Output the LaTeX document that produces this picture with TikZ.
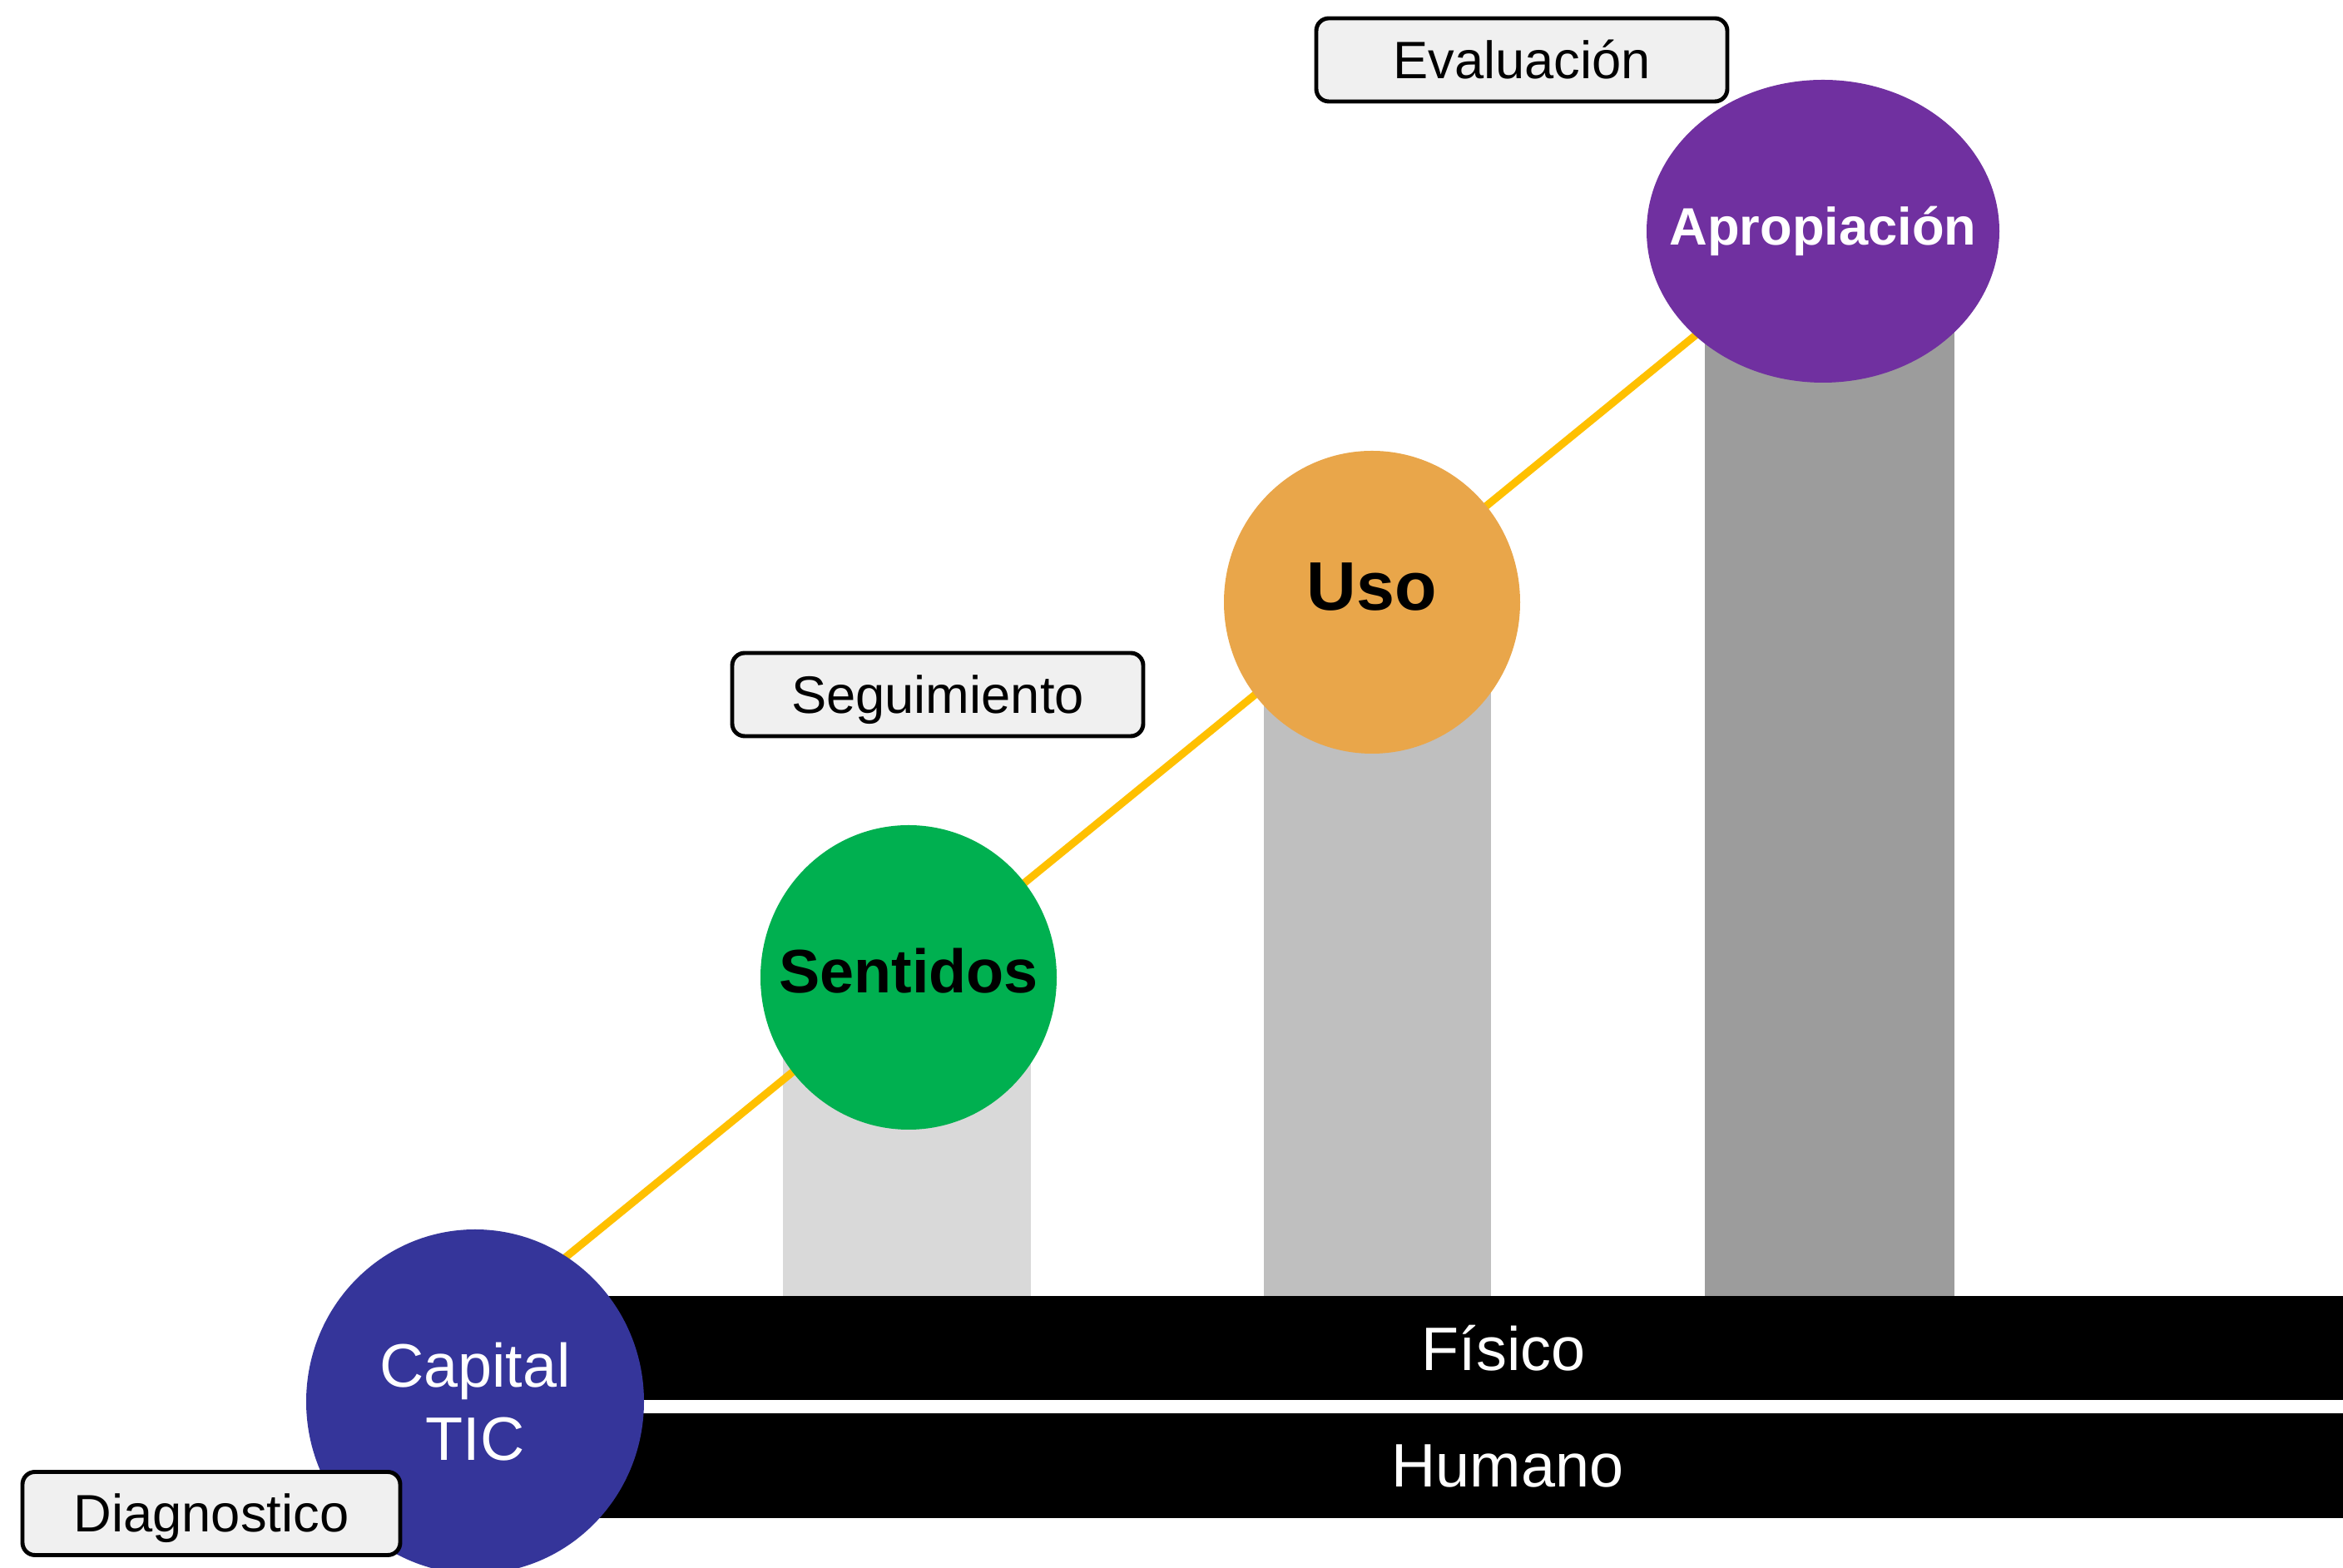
\documentclass[tikz,border=0pt]{standalone}
\usepackage{fontspec}
\setmainfont{Liberation Sans}
\usetikzlibrary{calc,backgrounds,shapes.geometric}
\definecolor{capitalazul}{HTML}{35359A}
\definecolor{sentidosverde}{HTML}{00B050}
\definecolor{usonaranja}{HTML}{E9A64A}
\definecolor{apropmorado}{HTML}{7030A0}
\definecolor{lineaamarilla}{HTML}{FFC000}
\definecolor{etiquetagris}{HTML}{F0F0F0}
\tikzset{
	etapa/.style={ellipse, inner sep=0pt},
	etiqueta/.style={draw=black, line width=1.4pt, rounded corners=0.15cm, fill=etiquetagris,
		minimum width=4.94cm, minimum height=1cm, inner sep=0pt, text height=12.6pt, text depth=0pt,
		font=\fontsize{18}{21}\selectfont},
	linea/.style={draw=lineaamarilla, line width=2.6pt},
}

\begin{document}
\begin{tikzpicture}
			%%%%% START %%%%%
			\useasboundingbox (0, 0) rectangle (28.16, 18.85);
			
			\node[etapa, fill=capitalazul, minimum width=4.06cm, minimum height=4.14cm] (capital) at (5.71, 2.00) {};
			\node[white, align=center, font=\fontsize{21}{25}\selectfont] (capitaltxt) at (capital) {Capital\\TIC};
			
			\node[etapa, fill=sentidosverde, minimum width=3.56cm, minimum height=3.66cm] (sentidos) at (10.92, 7.10) {};
			\node[font=\fontsize{21}{25}\selectfont\bfseries, yshift=0.08cm] (sentidostxt) at (sentidos) {Sentidos};
			
			\node[etapa, fill=usonaranja, minimum width=3.56cm, minimum height=3.64cm] (uso) at (16.49, 11.61) {};
			\node[font=\fontsize{23.5}{28}\selectfont\bfseries, yshift=0.18cm] (usotxt) at (uso) {Uso};
			
			\node[etapa, fill=apropmorado, minimum width=4.24cm, minimum height=3.64cm] (aprop) at (21.91, 16.07) {};
			\node[white, font=\fontsize{18}{21}\selectfont\bfseries] (aproptxt) at (aprop) {Apropiación};
			
			\begin{pgfonlayer}{background}
				\fill[black!15] (9.41, 3.26) rectangle (12.39, 7.10);
				\fill[black!25] (15.19, 3.26) rectangle (17.92, 11.61);
				\fill[black!39] (20.49, 3.26) rectangle (23.49, 16.07);
				
				\fill[black] (6.0, 2.02) rectangle (28.16, 3.27);
				\fill[black] (6.0, 0.60) rectangle (28.16, 1.86);
				
				\draw[linea] (aprop.center) -- ($(aprop.center)!1.42!(sentidos.center)$);
			\end{pgfonlayer}
			
			\node[white, font=\fontsize{21}{25}\selectfont] (fisico) at (18.07, 2.645) {Físico};
			\node[white, font=\fontsize{21}{25}\selectfont] (humano) at (18.12, 1.23) {Humano};
			
			\node[etiqueta] (evaluacion) at (18.29, 18.13) {Evaluación};
			\node[etiqueta] (seguimiento) at (11.27, 10.50) {Seguimiento};
			\node[etiqueta, minimum width=4.54cm] (diagnostico) at (2.54, 0.655) {Diagnostico};
			
			%%%%% END %%%%%
		\end{tikzpicture}
\end{document}
